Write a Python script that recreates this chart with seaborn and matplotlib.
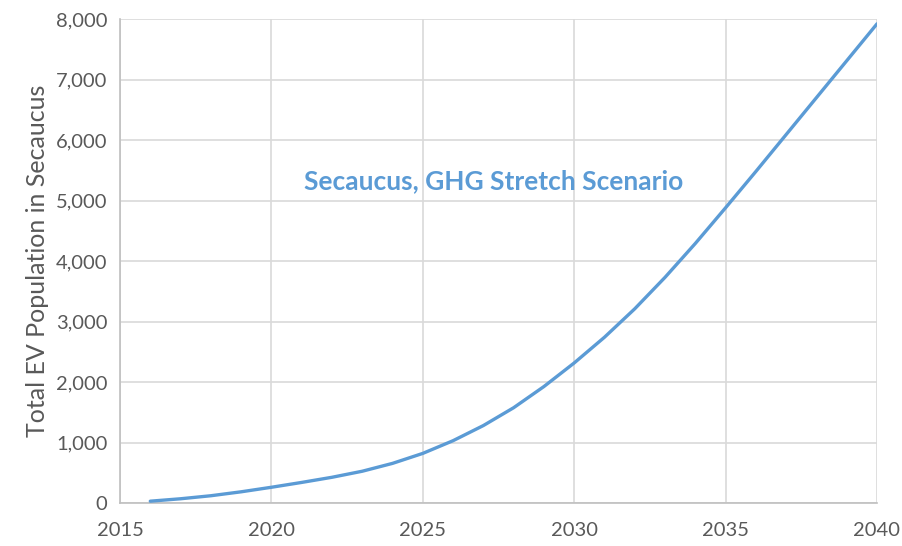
import matplotlib
matplotlib.use("Agg")
import matplotlib.pyplot as plt
import seaborn as sns
import pandas as pd
from matplotlib.ticker import FuncFormatter, MultipleLocator

years = [2016, 2017, 2018, 2019, 2020, 2021, 2022, 2023, 2024, 2025, 2026, 2027, 2028,
         2029, 2030, 2031, 2032, 2033, 2034, 2035, 2036, 2037, 2038, 2039, 2040]
ev_population = [30, 70, 120, 185, 260, 340, 425, 525, 655, 820, 1030, 1280, 1575,
                 1925, 2315, 2740, 3210, 3730, 4290, 4880, 5480, 6090, 6700, 7310, 7920]
x_ticks = [2015, 2020, 2025, 2030, 2035, 2040]
annotation = "Secaucus, GHG Stretch Scenario"
y_label = "Total EV Population in Secaucus"

sns.set_theme(style="white")
plt.rcParams['font.family'] = ['Lato', 'DejaVu Sans']

df = pd.DataFrame({"year": years, "ev": ev_population})

fig = plt.figure(figsize=(9.02, 5.46), dpi=100)
ax = fig.add_axes([120/902, 43/546, 757/902, 484/546])

sns.lineplot(data=df, x="year", y="ev", ax=ax, color="#5B9BD5", linewidth=2.4, zorder=3)

ax.set_xlim(2015, 2040)
ax.set_ylim(0, 8000)
ax.set_xticks(x_ticks)
ax.yaxis.set_major_locator(MultipleLocator(1000))
ax.yaxis.set_major_formatter(FuncFormatter(lambda v, p: f"{int(v):,}"))
ax.grid(True, color="#D9D9D9", linewidth=1.2)
ax.set_axisbelow(True)

for s in ["top", "right"]:
    ax.spines[s].set_visible(False)
for s in ["left", "bottom"]:
    ax.spines[s].set_color("#BFBFBF")
    ax.spines[s].set_linewidth(1.2)

ax.tick_params(axis="y", length=0, labelsize=14.5, colors="#595959", pad=9)
ax.tick_params(axis="x", length=0, labelsize=14.5, colors="#595959", pad=14)
ax.set_xlabel("")
ax.set_ylabel(y_label, fontsize=18, color="#595959", labelpad=5)

ax.text(2027.35, 5320, annotation, ha="center", va="center", fontsize=19,
        fontweight="bold", color="#5B9BD5")

fig.savefig("out.png", dpi=100)
